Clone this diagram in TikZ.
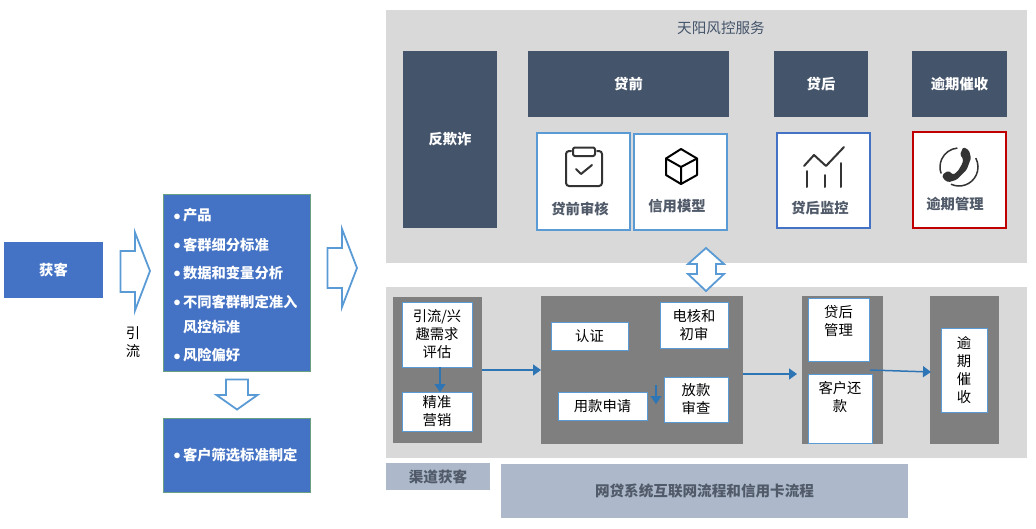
\documentclass[tikz,border=0pt]{standalone}
\usepackage{fontspec}
\usepackage{xcolor}
\usetikzlibrary{arrows.meta}
\setmainfont{Noto Sans CJK SC}
\definecolor{riskpanel}{RGB}{217, 217, 217}
\definecolor{riskslate}{RGB}{68, 84, 106}
\definecolor{riskblue}{RGB}{68, 114, 196}
\definecolor{riskpool}{RGB}{127, 127, 127}
\definecolor{risksteel}{RGB}{173, 185, 202}
\definecolor{riskline}{RGB}{91, 155, 213}
\definecolor{riskflow}{RGB}{46, 117, 182}
\definecolor{riskedge}{RGB}{106, 160, 130}
\definecolor{riskred}{RGB}{192, 0, 0}
\definecolor{riskink}{RGB}{51, 51, 51}
\definecolor{risktext}{RGB}{80, 90, 105}
\tikzset{
  basebox/.style={inner sep=0pt, outer sep=0pt, align=center, font=\fontsize{14.3}{18}\selectfont},
  panelbox/.style={basebox, fill=riskpanel},
  slatebox/.style={basebox, fill=riskslate, text=white, font=\fontsize{14.3}{18}\selectfont\bfseries},
  bluebox/.style={basebox, fill=riskblue, draw=riskedge, line width=1pt, text=white, font=\fontsize{14.3}{18}\selectfont\bfseries},
  poolbox/.style={basebox, fill=riskpool},
  flowbox/.style={basebox, fill=white, draw=riskline, line width=1pt, text=black},
  cardbox/.style={basebox, fill=white, draw=riskline, line width=1.8pt},
  cardtext/.style={basebox, text=risktext, font=\fontsize{14.3}{18}\selectfont\bfseries},
  plaintext/.style={basebox, text=black},
  steelbox/.style={basebox, fill=risksteel, text=risktext, font=\fontsize{14.6}{18}\selectfont\bfseries},
  listtext/.style={basebox, anchor=west, text=white, font=\fontsize{14.3}{18}\selectfont\bfseries},
  blockarrow/.style={draw=riskline, line width=1.8pt, fill=white, line join=miter},
  flowarrow/.style={draw=riskflow, line width=1.5pt, -{Triangle[length=8pt,width=11pt]}},
  iconline/.style={draw=riskink, line width=2pt, line cap=round, line join=round}
}
\newcommand{\listdot}{\llap{\smash{\raisebox{-3.5pt}{\fontsize{20}{18}\selectfont\textbullet}}\hspace{-4.5pt}}}
\begin{document}
\begin{tikzpicture}[x=1pt, y=-1pt]
\useasboundingbox (0,0) rectangle (1036,528);

% left column
\node[bluebox, draw=none, minimum width=99pt, minimum height=56pt] (acquire) at (53.5,270) {获客};
\node[bluebox, minimum width=147pt, minimum height=177pt] (standards) at (237,283) {};
\node[bluebox, minimum width=147pt, minimum height=74pt] (screening) at (237,455.5) {};
\foreach \ypos/\itemname/\itemtext in {215.5/itemA/产品, 244.5/itemB/客群细分标准, 273/itemC/数据和变量分析, 301.5/itemD/不同客群制定准入, 355.5/itemE/风险偏好, 455/itemF/客户筛选标准制定}
  \node[listtext] (\itemname) at (183,\ypos) {\listdot\itemtext};
\node[listtext] (itemDmore) at (183,327.5) {风控标准};
\node[plaintext] (leadlabel) at (133,342) {引\\流};

\draw[blockarrow] (120.5,251) -- (135,251) -- (135,232.5) -- (150,271) -- (135,310.5) -- (135,292) -- (120.5,292) -- cycle;
\draw[blockarrow] (327.5,248) -- (342,248) -- (342,229) -- (357,268) -- (342,307) -- (342,288) -- (327.5,288) -- cycle;
\draw[blockarrow] (226,379.5) -- (248,379.5) -- (248,395) -- (257.5,395) -- (237,409.5) -- (216.5,395) -- (226,395) -- cycle;

% service panel
\node[panelbox, minimum width=641pt, minimum height=253pt] (service) at (706.5,136.5) {};
\node[basebox, text=riskslate, font=\fontsize{14.6}{18}\selectfont] (servicetitle) at (721,28) {天阳风控服务};
\node[slatebox, minimum width=94pt, minimum height=177pt] (antifraud) at (450,139.5) {反欺诈};
\node[slatebox, minimum width=201pt, minimum height=66pt] (preloan) at (628.5,84) {贷前};
\node[slatebox, minimum width=94pt, minimum height=66pt] (postloan) at (821,84) {贷后};
\node[slatebox, minimum width=95pt, minimum height=66pt] (overdue) at (959.5,84) {逾期催收};

\node[cardbox, minimum width=93.5pt, minimum height=97.5pt] (precheck) at (583.5,181.5) {};
\node[cardbox, minimum width=93.5pt, minimum height=96.5pt] (creditmodel) at (680.5,182) {};
\node[cardbox, draw=riskblue, minimum width=93.5pt, minimum height=95.5pt] (monitor) at (823.5,180.5) {};
\node[cardbox, draw=riskred, minimum width=93.5pt, minimum height=96.5pt] (overduemgmt) at (959.5,180) {};
\node[cardtext] (prechecktext) at (580,208.5) {贷前审核};
\node[cardtext] (modeltext) at (677,206.5) {信用模型};
\node[cardtext] (monitortext) at (820,208.5) {贷后监控};
\node[cardtext] (overduetext) at (955,204.5) {逾期管理};

% icons
\draw[iconline, rounded corners=3pt] (571,151) -- (566,151) -- (566,186) -- (602,186) -- (602,151) -- (597,151);
\draw[iconline, rounded corners=2pt] (573,147.5) rectangle (595,156);
\draw[iconline] (576,169) -- (581,174) -- (592,165);
\draw[iconline, draw=black] (681,149) -- (697,158.5) -- (697,175) -- (681,184) -- (666,175) -- (666,158.5) -- cycle;
\draw[iconline, draw=black] (666,158.5) -- (681,167) -- (697,158.5) (681,167) -- (681,184);
\draw[iconline] (804,166) -- (814,155) -- (826,166) -- (844,147);
\draw[iconline] (807,171) -- (807,187) (825,175) -- (825,187) (841,163) -- (841,187);
\begin{scope}[shift={(959,167)}, y=1pt]
  \draw[draw=riskink, line width=1.5pt] (95:19pt) arc[start angle=95, end angle=200, radius=19pt];
  \draw[draw=riskink, line width=1.5pt] (245:19pt) arc[start angle=245, end angle=388, radius=19pt];
  \fill[riskink, rounded corners=1.5pt] (4.3,20) -- (10,16.7) -- (12,9) -- (7.7,-2.7) -- (-2.3,-12.7) -- (-10.7,-15.3) -- (-15.7,-12) -- (-16.7,-7.7) -- (-10.7,-3.7) -- (-5.7,-7.7) -- (-1.3,-4.3) -- (3.3,3.3) -- (4.3,8) -- (1,12.3) -- cycle;
\end{scope}

% flow panel
\node[panelbox, minimum width=641pt, minimum height=171pt] (flowpanel) at (706.5,372.5) {};
\draw[blockarrow] (706,248) -- (724,264) -- (716,264) -- (716,274) -- (724,274) -- (706,291) -- (688,274) -- (697,274) -- (697,264) -- (688,264) -- cycle;
\node[poolbox, minimum width=89pt, minimum height=146pt] (poolA) at (437.5,370) {};
\node[poolbox, minimum width=202pt, minimum height=148pt] (poolB) at (642,370) {};
\node[poolbox, minimum width=81pt, minimum height=148pt] (poolC) at (842.5,370) {};
\node[poolbox, minimum width=69pt, minimum height=148pt] (poolD) at (964.5,370) {};

\node[flowbox, minimum width=70pt, minimum height=65pt] (demand) at (437,334.5) {引流/兴\\趣需求\\评估};
\node[flowbox, minimum width=70pt, minimum height=39pt] (marketing) at (437,411.5) {精准\\营销};
\node[flowbox, minimum width=77pt, minimum height=28pt] (verify) at (589.5,336) {认证};
\node[flowbox, minimum width=68pt, minimum height=46pt] (phonecheck) at (694,325) {电核和\\初审};
\node[flowbox, minimum width=89pt, minimum height=28pt] (apply) at (602.5,406) {用款申请};
\node[flowbox, minimum width=64pt, minimum height=45pt] (release) at (696,399.5) {放款\\审查};
\node[flowbox, minimum width=61pt, minimum height=63pt] (aftermgmt) at (838.5,329.5) {};
\node[plaintext] (aftermgmttext) at (838.5,321) {贷后\\管理};
\node[flowbox, minimum width=64pt, minimum height=69pt] (repay) at (840,408.5) {};
\node[plaintext] (repaytext) at (840,397) {客户还\\款};
\node[flowbox, minimum width=46pt, minimum height=84pt] (collect) at (964,370) {逾\\期\\催\\收};

\coordinate (releaseA) at (656,385);
\coordinate (releaseB) at (656,404);
\coordinate (poolBout) at (743,374);
\coordinate (poolCin) at (797,374);
\coordinate (poolCout) at (870,370);
\coordinate (poolDin) at (931,372);
\draw[flowarrow] ([xshift=3pt]demand.south) -- ([xshift=3pt]marketing.north);
\draw[flowarrow] (poolA) -- (poolB);
\draw[flowarrow] (releaseA) -- (releaseB);
\draw[flowarrow] (poolBout) -- (poolCin);
\draw[flowarrow] (poolCout) -- (poolDin);

% bottom bars
\node[steelbox, minimum width=104pt, minimum height=27pt] (channel) at (438,476.5) {渠道获客};
\node[steelbox, minimum width=407pt, minimum height=54pt] (loansystem) at (704.5,491) {网贷系统互联网流程和信用卡流程};
\end{tikzpicture}
\end{document}
